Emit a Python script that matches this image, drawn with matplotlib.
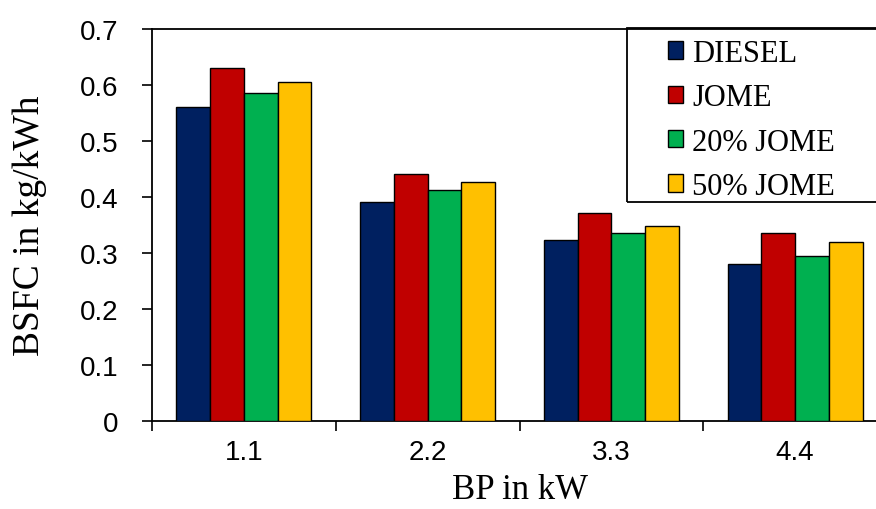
import matplotlib
matplotlib.use("Agg")
import matplotlib.pyplot as plt
from matplotlib.patches import Rectangle
import numpy as np

categories = ["1.1", "2.2", "3.3", "4.4"]
series_names = ["DIESEL", "JOME", "20% JOME", "50% JOME"]
diesel = [0.561, 0.391, 0.324, 0.280]
jome = [0.630, 0.441, 0.371, 0.335]
jome20 = [0.586, 0.412, 0.335, 0.295]
jome50 = [0.605, 0.426, 0.349, 0.320]
y_ticks = [0, 0.1, 0.2, 0.3, 0.4, 0.5, 0.6, 0.7]
y_tick_labels = ["0", "0.1", "0.2", "0.3", "0.4", "0.5", "0.6", "0.7"]

colors = ["#002060", "#C00000", "#00B050", "#FFC000"]
series = [diesel, jome, jome20, jome50]

W, H = 876, 510
fig = plt.figure(figsize=(W / 100, H / 100), dpi=100)
ax = fig.add_axes([152 / W, 1 - 422 / H, (887 - 152) / W, (422 - 30) / H])

x = np.arange(len(categories))
bw = 0.184
for i, (vals, c, name) in enumerate(zip(series, colors, series_names)):
    ax.bar(x + (i - 1.5) * bw, vals, bw, color=c, edgecolor="black",
           linewidth=1.0, label=name, zorder=3)

ax.set_xlim(-0.5, len(categories) - 0.5)
ax.set_ylim(0, 0.7)
ax.set_yticks(y_ticks)
ax.set_yticklabels(y_tick_labels, fontsize=20, family="Liberation Sans")
ax.set_xticks(np.arange(len(categories)) - 0.5)
ax.set_xticklabels([])
ax.set_xticks(x, minor=True)
ax.set_xticklabels(categories, minor=True, fontsize=20, family="Liberation Sans")
ax.tick_params(axis="x", which="minor", length=0, pad=13)
ax.tick_params(axis="both", which="major", length=7, width=1.2, direction="out")
ax.tick_params(axis="y", pad=17)
ax.spines["right"].set_visible(False)
for s in ["left", "bottom", "top"]:
    ax.spines[s].set_linewidth(1.3)

ax.set_ylabel("BSFC in kg/kWh", fontsize=27, family="Liberation Serif", labelpad=24)
ax.set_xlabel("BP in kW", fontsize=25, family="Liberation Serif", labelpad=6)

# legend frame
fig.patches.append(Rectangle((627 / W, 1 - 203 / H), (900 - 627) / W, (203 - 29) / H,
                             transform=fig.transFigure, fill=False,
                             edgecolor="black", linewidth=1.3, zorder=5))
leg = ax.legend(loc="upper left", bbox_to_anchor=(668 / W, 1 - 40 / H),
                bbox_transform=fig.transFigure, frameon=False,
                prop={"family": "Liberation Serif", "size": 22},
                handlelength=0.5, handleheight=0.5, handletextpad=0.3,
                labelspacing=0.5, borderpad=0, borderaxespad=0)

fig.savefig("out.png", dpi=100)
